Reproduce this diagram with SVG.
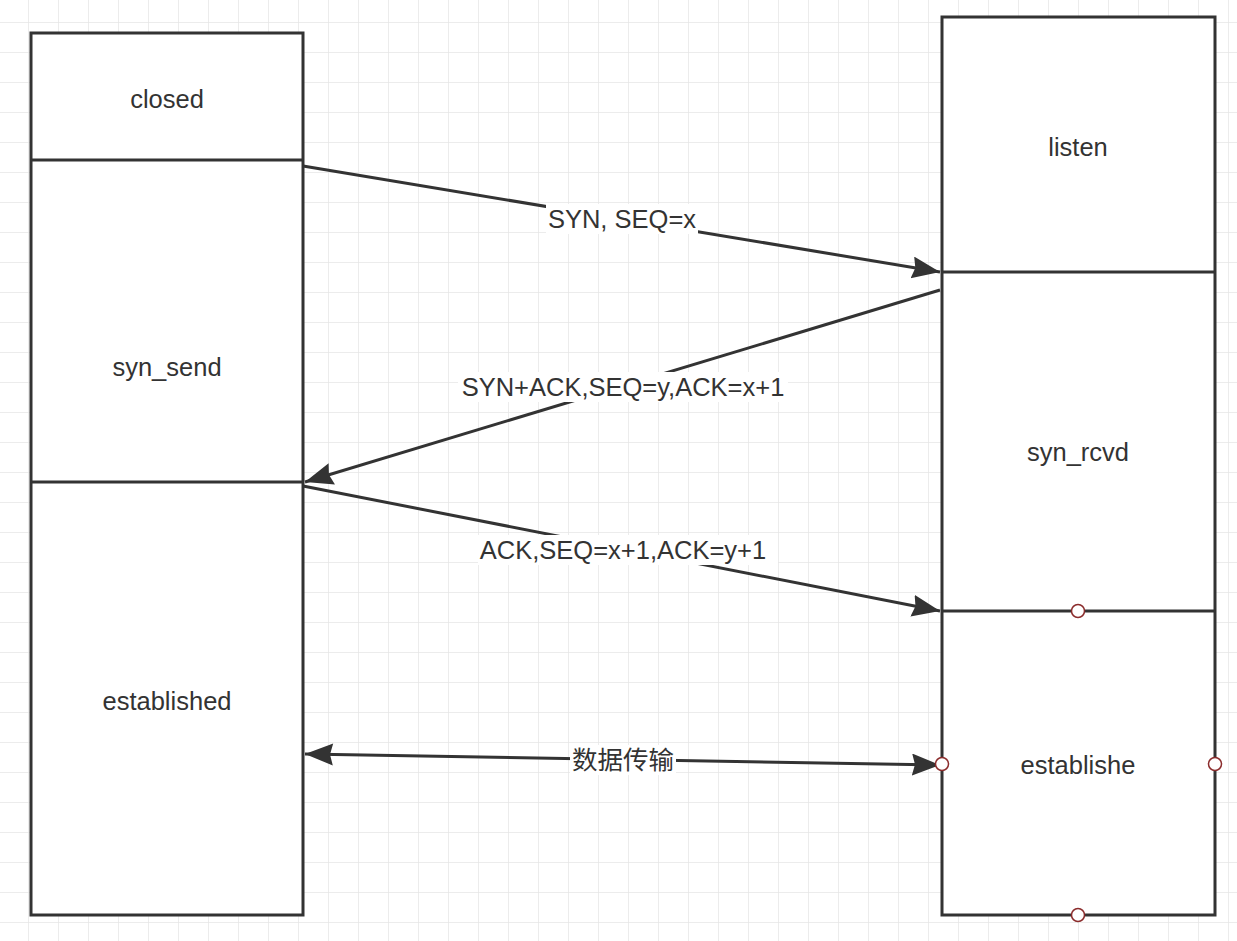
<svg xmlns="http://www.w3.org/2000/svg" width="1237" height="941" viewBox="0 0 1237 941">
<defs>
<pattern id="grid" x="28" y="22" width="30" height="30" patternUnits="userSpaceOnUse">
<path d="M0 0H30M0 0V30" fill="none" stroke="#e6e6e6" stroke-width="1.5"/>
</pattern>
<marker id="ah" markerWidth="32" markerHeight="24" refX="28" refY="11" orient="auto" markerUnits="userSpaceOnUse">
<path d="M0 0L28 11L0 22L3 11Z" fill="#333"/>
</marker>
<marker id="as" markerWidth="32" markerHeight="24" refX="0" refY="11" orient="auto" markerUnits="userSpaceOnUse">
<path d="M28 0L0 11L28 22L25 11Z" fill="#333"/>
</marker>
</defs>
<style>
.box{fill:#fff;stroke:#333;stroke-width:3}
.div{stroke:#333;stroke-width:3}
.lbl{font-family:"Liberation Sans",Arial,sans-serif;font-size:25.5px;fill:#333;text-anchor:middle;dominant-baseline:central}
.elbl{font-family:"Liberation Sans","Noto Sans CJK SC",sans-serif;font-size:25.5px;fill:#333;text-anchor:middle;dominant-baseline:central}
.edge{fill:none;stroke:#333;stroke-width:3}
.bg{fill:#fff}
.pt{fill:#fff;stroke:#8b2c2c;stroke-width:1.5}
</style>
<rect width="1237" height="941" fill="#fff"/>
<rect width="1237" height="941" fill="url(#grid)"/>
<g id="client">
<rect class="box" x="31" y="33" width="272" height="882"/>
<line class="div" x1="31" y1="160" x2="303" y2="160"/>
<line class="div" x1="31" y1="482" x2="303" y2="482"/>
<text class="lbl" x="167" y="99">closed</text>
<text class="lbl" x="167" y="367">syn_send</text>
<text class="lbl" x="167" y="701">established</text>
</g>
<g id="server">
<rect class="box" x="942" y="17" width="273" height="898"/>
<line class="div" x1="942" y1="272" x2="1215" y2="272"/>
<line class="div" x1="942" y1="611" x2="1215" y2="611"/>
<text class="lbl" x="1078" y="147">listen</text>
<text class="lbl" x="1078" y="452">syn_rcvd</text>
<text class="lbl" x="1078" y="765">establishe</text>
</g>
<g id="connectors">
<path class="edge" d="M303 166L940 272" marker-end="url(#ah)"/>
<path class="edge" d="M940 290L305 482" marker-end="url(#ah)"/>
<path class="edge" d="M303 486L940 611" marker-end="url(#ah)"/>
<path class="edge" d="M305 754L940 765" marker-start="url(#as)" marker-end="url(#ah)"/>
<rect class="bg" x="546" y="204" width="152" height="30"/>
<text class="elbl" x="622" y="219">SYN, SEQ=x</text>
<rect class="bg" x="458" y="372" width="330" height="30"/>
<text class="elbl" x="623" y="387">SYN+ACK,SEQ=y,ACK=x+1</text>
<rect class="bg" x="478" y="535" width="300" height="30"/>
<text class="elbl" x="623" y="550">ACK,SEQ=x+1,ACK=y+1</text>
<rect class="bg" x="570" y="745" width="106" height="30"/>
<text class="elbl" x="623" y="760">数据传输</text>
</g>
<g id="points">
<circle class="pt" cx="1078" cy="611" r="6.5"/>
<circle class="pt" cx="942" cy="764" r="6.5"/>
<circle class="pt" cx="1215" cy="764" r="6.5"/>
<circle class="pt" cx="1078" cy="915" r="6.5"/>
</g>
</svg>
